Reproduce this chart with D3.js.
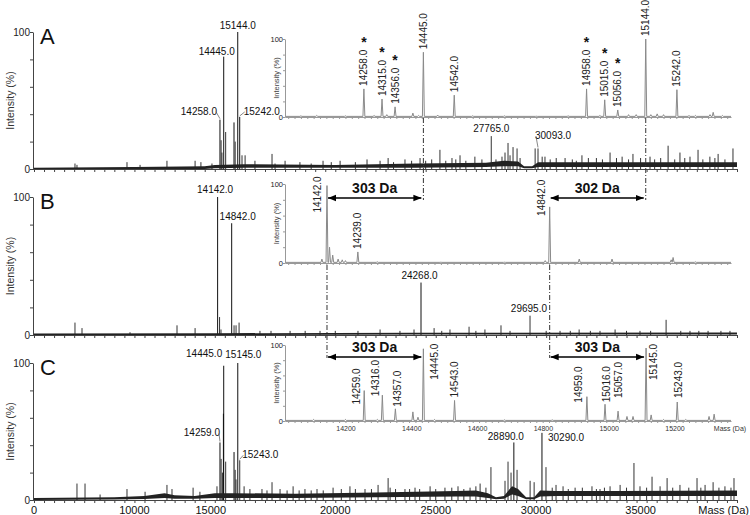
<!DOCTYPE html>
<html>
<head>
<meta charset="utf-8">
<script src="https://cdn.jsdelivr.net/npm/d3@7"></script>
<style>
  body { margin: 0; background: #fff; }
  svg { display: block; font-family: "Liberation Sans", Arial, sans-serif; }
</style>
</head>
<body>
<svg id="chart" width="750" height="515"></svg>
<script>
// ---- data ----
const panelNames = ["A", "B", "C"];

// main spectra: [mass (Da), intensity %]
const peaksA = [
  [7040, 4], [7140, 3], [9630, 5], [10280, 3], [11620, 6], [13020, 6], [13310, 5], [13860, 4],
  [14258, 36], [14315, 21], [14356, 12], [14445, 82], [14542, 27], [14958, 34], [15015, 20],
  [15144, 100], [15242, 38], [15356, 10], [15510, 10], [16000, 6], [16850, 11], [17000, 4],
  [17500, 6], [18240, 5], [18800, 4], [19390, 6], [19800, 5], [20240, 6], [21000, 5], [21580, 7],
  [22230, 6], [22630, 8], [22900, 5], [23470, 7], [23800, 6], [24220, 8], [24500, 6], [24800, 7],
  [25210, 14], [25500, 6], [25810, 8], [26000, 7], [26210, 10], [26500, 6], [26950, 9],
  [27300, 7], [27765, 24], [28000, 7], [28300, 9], [28450, 12], [28600, 19], [28700, 10],
  [28850, 16], [29050, 15], [29200, 8], [29950, 15], [30093, 15], [30300, 9], [30440, 9],
  [30700, 7], [31000, 8], [31440, 8], [31800, 7], [32000, 6], [32280, 10], [32600, 8],
  [33000, 8], [33300, 7], [33680, 12], [34000, 8], [34280, 9], [34600, 7], [34820, 11],
  [35200, 8], [35670, 9], [35900, 7], [36200, 8], [36570, 17], [36900, 7], [37160, 12],
  [37400, 8], [37660, 9], [38060, 14], [38300, 7], [38650, 9], [38900, 8], [39060, 11],
  [39400, 7], [39800, 15]
];
const peaksB = [
  [7040, 9], [7390, 5], [9780, 2], [12120, 7], [13020, 5], [14142, 100], [14239, 13], [14310, 4],
  [14842, 81], [14960, 7], [15060, 7], [15210, 9], [16250, 3], [16800, 3], [17750, 3],
  [18500, 3], [19240, 3], [20000, 3], [21130, 3], [22230, 4], [23220, 3], [23920, 4],
  [24268, 38], [24920, 5], [25300, 3], [25710, 4], [26660, 6], [27000, 3], [27450, 4],
  [28250, 7], [28700, 3], [29695, 14], [30500, 3], [31190, 3], [31700, 3], [32140, 4],
  [32700, 3], [33180, 3], [33930, 4], [34500, 3], [35170, 3], [35700, 3], [36470, 11],
  [37200, 3], [37660, 3], [38100, 3], [38560, 3], [39200, 3], [39650, 3]
];
const peaksC = [
  [7140, 12], [7540, 12], [8290, 4], [9630, 8], [10530, 6], [11620, 11], [11870, 8], [12920, 9],
  [13260, 6], [14110, 10], [14259, 42], [14316, 30], [14380, 20], [14430, 63], [14445, 98],
  [14543, 28], [14959, 35], [15016, 22], [15057, 15], [15145, 100], [15243, 29], [15460, 10],
  [15750, 8], [16350, 8], [16600, 7], [16850, 13], [17250, 8], [17600, 7], [17900, 10],
  [18200, 7], [18490, 8], [18800, 7], [19090, 8], [19400, 7], [19890, 9], [20300, 8],
  [20730, 10], [21000, 8], [21480, 8], [21800, 8], [22130, 11], [22630, 16], [22730, 9],
  [23000, 8], [23470, 8], [23700, 8], [23970, 9], [24200, 8], [24720, 10], [25000, 8],
  [25460, 9], [25800, 9], [26110, 10], [26400, 8], [26710, 9], [27000, 10], [27210, 12],
  [27500, 9], [27750, 24], [28450, 14], [28600, 28], [28750, 20], [28890, 42], [29050, 22],
  [29700, 14], [29900, 13], [30290, 49], [30490, 24], [30800, 9], [30990, 11], [31340, 10],
  [31600, 8], [31940, 9], [32300, 9], [32780, 10], [33000, 8], [33180, 8], [33400, 9],
  [33680, 10], [34180, 11], [34500, 9], [34870, 27], [35170, 10], [35500, 9], [35770, 17],
  [36170, 10], [36520, 16], [36800, 9], [37160, 11], [37600, 9], [38010, 16], [38200, 9],
  [38410, 11], [38810, 13], [39100, 9], [39400, 10], [39700, 9], [39850, 16]
];

// noise band of each main spectrum: [mass, low %, high %]
const noiseA = [
  [5000, 0, 1], [10000, 0, 1.5], [13500, 0, 2], [14000, 0.5, 3], [15500, 1, 3.5], [20000, 1, 3],
  [24000, 1, 4], [27500, 1.5, 4.5], [28400, 2, 6], [29100, 2, 5.5], [29400, 0.5, 2],
  [29800, 0.5, 2], [30100, 1.5, 5], [34000, 1.5, 5], [40000, 1.5, 5]
];
const noiseB = [
  [5000, 0, 1], [14000, 0, 1.3], [24000, 0.3, 1.6], [40000, 0.3, 1.8]
];
const noiseC = [
  [5000, 0, 1.5], [9000, 0.3, 2], [10500, 0.8, 3], [11500, 1.5, 5], [12000, 1, 3.5],
  [13000, 1, 3], [14000, 1.5, 5], [15000, 1.5, 5], [18000, 1.5, 4.5], [22000, 2, 5.5],
  [26000, 2.5, 6.5], [27000, 2.5, 7], [27600, 1.5, 5], [28000, 0.5, 2], [28400, 1, 3],
  [28800, 4, 10], [29100, 3, 8], [29500, 0.5, 2], [29900, 0.5, 2], [30200, 2.5, 7],
  [31000, 3, 6.5], [34000, 3, 6.5], [40000, 3, 7]
];

// zoomed insets: [mass, intensity %]
const insetPeaksA = [
  [14060, 1.5], [14110, 2], [14200, 1.5], [14258, 36], [14290, 2], [14315, 23], [14330, 3],
  [14356, 13], [14412, 5], [14430, 2], [14445, 83], [14490, 2.5], [14542, 28], [14600, 1.5],
  [14700, 1.5], [14800, 1], [14900, 1.5], [14958, 36], [15000, 2], [15015, 22], [15056, 9],
  [15090, 3], [15114, 3], [15144, 100], [15160, 3], [15180, 4], [15200, 3], [15242, 35],
  [15280, 2], [15300, 2], [15346, 3], [15356, 6], [15385, 2]
];
const insetPeaksB = [
  [14126, 5], [14142, 98], [14150, 20], [14160, 10], [14177, 5], [14190, 4], [14200, 3],
  [14239, 14], [14300, 1.5], [14500, 1], [14700, 1], [14828, 3], [14842, 71], [14935, 5],
  [15038, 5], [15224, 4], [15230, 7], [15300, 1.5]
];
const insetPeaksC = [
  [14100, 2], [14200, 2], [14259, 40], [14300, 2], [14316, 34], [14357, 16], [14412, 12],
  [14428, 5], [14445, 95], [14480, 2], [14543, 27], [14700, 1.5], [14850, 1.5], [14959, 32],
  [15016, 22], [15057, 13], [15085, 6], [15104, 6], [15145, 96], [15161, 8], [15200, 2],
  [15243, 25], [15270, 2], [15343, 6], [15359, 9]
];
const starredA = [14258, 14315, 14356, 14958, 15015, 15056];

// printed axis labels and the mass position at which each one sits in the figure
const mainTickLabels = ["0", "10000", "15000", "20000", "25000", "30000", "35000"];
const mainTickAt = [5000, 10000, 13800, 20000, 25000, 30000, 35200];
const insetTickLabels = [14200, 14400, 14600, 14800, 15000, 15200];

// mass shifts between the B and C insets
const shiftB = [[14142, 14445, "303 Da"], [14842, 15144, "302 Da"]];
const shiftC = [[14142, 14445, "303 Da"], [14842, 15145, "303 Da"]];

// ---- layout ----
const svg = d3.select("#chart");
const massX = d3.scaleLinear().domain([5000, 40000]).range([34, 737]);
const insetX = d3.scaleLinear().domain([14010, 15412]).range([285, 731]);
const insetTickX = d3.scaleLinear().domain([14200, 15200]).range([346, 675]);

const panels = [
  { top: 32, bottom: 169, peaks: peaksA, noise: noiseA, insetTop: 39, insetBottom: 117, inset: insetPeaksA,
    labels: [
      { m: 14445, anchor: "middle", dx: -7, dy: -2 },
      { m: 15144, anchor: "middle", dx: 0, dy: -3 },
      { m: 14258, anchor: "end", dx: -3, dy: -5, leader: true },
      { m: 15242, anchor: "start", dx: 4, dy: -2, leader: true },
      { m: 27765, anchor: "middle", dx: 0, dy: -4 },
      { m: 30093, anchor: "start", dx: -3, dy: -9, leader: true }
    ],
    insetLabels: [14258, 14315, 14356, 14445, 14542, 14958, 15015, 15056, 15144, 15242]
      .map(m => ({ m, dx: 0, dy: -3 })) },
  { top: 197, bottom: 335, peaks: peaksB, noise: noiseB, insetTop: 184, insetBottom: 263, inset: insetPeaksB,
    labels: [
      { m: 14142, anchor: "middle", dx: -2.5, dy: -4 },
      { m: 14842, anchor: "middle", dx: 6, dy: -3 },
      { m: 24268, anchor: "middle", dx: -1.5, dy: -4 },
      { m: 29695, anchor: "end", dx: 17, dy: -4 }
    ],
    insetLabels: [
      { m: 14142, dx: -9.5, dy: 27 },
      { m: 14239, dx: -0.5, dy: -3 },
      { m: 14842, dx: -8, dy: 9 }
    ] },
  { top: 363, bottom: 500, peaks: peaksC, noise: noiseC, insetTop: 345, insetBottom: 421, inset: insetPeaksC,
    labels: [
      { m: 14445, anchor: "end", dx: -1.5, dy: -9 },
      { m: 15145, anchor: "start", dx: -12.5, dy: -5 },
      { m: 14259, anchor: "end", dx: 0, dy: -6, leader: true },
      { m: 15243, anchor: "start", dx: 2.5, dy: -2, leader: true },
      { m: 28890, anchor: "middle", dx: -8, dy: -2 },
      { m: 30290, anchor: "start", dx: 6, dy: 8 }
    ],
    insetLabels: [
      { m: 14259, dx: -8, dy: 14 }, { m: 14316, dx: -7, dy: 1 }, { m: 14357, dx: 2, dy: -2 },
      { m: 14445, dx: 11, dy: 31 }, { m: 14543, dx: 0, dy: -3 }, { m: 14959, dx: -8, dy: 6 },
      { m: 15016, dx: 1, dy: -2 }, { m: 15057, dx: 0.5, dy: -13 }, { m: 15145, dx: 7.5, dy: 32 },
      { m: 15243, dx: 1, dy: -4 }
    ] }
];

const defs = svg.append("defs");
defs.append("marker")
  .attr("id", "arrow")
  .attr("viewBox", "0 0 10 10")
  .attr("refX", 10)
  .attr("refY", 5)
  .attr("markerUnits", "userSpaceOnUse")
  .attr("markerWidth", 8)
  .attr("markerHeight", 8)
  .attr("orient", "auto-start-reverse")
  .append("path")
  .attr("d", "M0,1 L10,5 L0,9 Z")
  .attr("fill", "#000");

const fmt = m => m.toFixed(1);

function styleAxis(g, color) {
  g.select(".domain").attr("stroke", color);
  g.selectAll(".tick line").attr("stroke", color);
  g.selectAll(".tick text").attr("fill", "#222");
}

function peakOf(list, m) {
  return list.find(d => d[0] === m);
}

// ---- main panels ----
panels.forEach((p, i) => {
  const y = d3.scaleLinear().domain([0, 100]).range([p.bottom, p.top]);
  const g = svg.append("g").attr("class", "panel");

  // peaks
  g.selectAll("line.peak")
    .data(p.peaks)
    .join("line")
    .attr("class", "peak")
    .attr("x1", d => massX(d[0]))
    .attr("x2", d => massX(d[0]))
    .attr("y1", y(0))
    .attr("y2", d => y(d[1]))
    .attr("stroke", d => d[1] > 30 ? "#111" : "#333")
    .attr("stroke-width", 1);

  // noise band
  g.append("path")
    .datum(p.noise)
    .attr("fill", "#222")
    .attr("d", d3.area()
      .x(d => massX(d[0]))
      .y0(d => y(d[1]))
      .y1(d => y(d[2])));

  // axes
  const xAxis = g.append("g")
    .attr("transform", `translate(0,${p.bottom})`)
    .call(d3.axisBottom(massX)
      .tickValues(d3.range(5000, 40001, 500))
      .tickSize(3)
      .tickSizeOuter(0)
      .tickFormat(""));
  styleAxis(xAxis, "#444");
  xAxis.select(".domain").attr("d", `M33,0.5H737`);

  const yAxis = g.append("g")
    .attr("transform", "translate(33,0)")
    .call(d3.axisLeft(y)
      .tickValues([0, 20, 40, 60, 80, 100])
      .tickSize(3)
      .tickSizeOuter(0)
      .tickFormat(d => (d === 0 || d === 100) ? d : ""));
  styleAxis(yAxis, "#444");
  yAxis.selectAll(".tick text").attr("font-size", 10).attr("font-family", null).attr("x", -3);

  g.append("text")
    .attr("transform", `translate(14,${(p.top + p.bottom) / 2}) rotate(-90)`)
    .attr("text-anchor", "middle")
    .attr("font-size", 10.5)
    .attr("fill", "#333")
    .text("Intensity (%)");

  g.append("text")
    .attr("x", 40)
    .attr("y", p.top + 12)
    .attr("font-size", 22)
    .attr("fill", "#111")
    .text(panelNames[i]);

  // peak labels
  p.labels.forEach(l => {
    const pk = peakOf(p.peaks, l.m);
    const px = massX(pk[0]);
    const py = y(pk[1]);
    const tx = px + l.dx;
    const ty = py + l.dy;
    g.append("text")
      .attr("x", tx)
      .attr("y", ty)
      .attr("text-anchor", l.anchor)
      .attr("font-size", 10)
      .attr("fill", "#111")
      .text(fmt(l.m));
    if (l.leader) {
      g.append("line")
        .attr("x1", px)
        .attr("y1", py - 1)
        .attr("x2", tx + (l.anchor === "end" ? -1 : 1))
        .attr("y2", ty - 3)
        .attr("stroke", "#555")
        .attr("stroke-width", 0.7);
    }
  });
});

// main mass axis labels
mainTickLabels.forEach((t, i) => {
  svg.append("text")
    .attr("x", massX(mainTickAt[i]))
    .attr("y", 514)
    .attr("text-anchor", "middle")
    .attr("font-size", 11)
    .attr("fill", "#111")
    .text(t);
});
svg.append("text")
  .attr("x", 749)
  .attr("y", 514)
  .attr("text-anchor", "end")
  .attr("font-size", 11)
  .attr("fill", "#111")
  .text("Mass (Da)");

// ---- insets ----
panels.forEach((p, i) => {
  const y = d3.scaleLinear().domain([0, 100]).range([p.insetBottom, p.insetTop]);
  const g = svg.append("g").attr("class", "inset");
  const base = 0.8;
  const halfWidth = 3;

  const pts = [[insetX.domain()[0], base]];
  p.inset.forEach(d => {
    pts.push([d[0] - halfWidth, base], [d[0], d[1]], [d[0] + halfWidth, base]);
  });
  pts.push([insetX.domain()[1], base]);

  g.append("path")
    .datum(pts)
    .attr("fill", "none")
    .attr("stroke", "#8a8a8a")
    .attr("stroke-width", 1)
    .attr("d", d3.line().x(d => insetX(d[0])).y(d => y(d[1])));

  const xAxis = g.append("g")
    .attr("transform", `translate(0,${p.insetBottom})`)
    .call(d3.axisBottom(insetX)
      .tickValues(d3.range(14020, 15401, 20))
      .tickSize(2)
      .tickSizeOuter(0)
      .tickFormat(""));
  styleAxis(xAxis, "#999");

  const yAxis = g.append("g")
    .attr("transform", "translate(285,0)")
    .call(d3.axisLeft(y)
      .tickValues([0, 20, 40, 60, 80, 100])
      .tickSize(2)
      .tickSizeOuter(0)
      .tickFormat(d => (d === 0 || d === 100) ? d : ""));
  styleAxis(yAxis, "#999");
  yAxis.selectAll(".tick text").attr("font-size", 7.5).attr("font-family", null).attr("x", -2);

  g.append("text")
    .attr("transform", `translate(279,${(p.insetTop + p.insetBottom) / 2}) rotate(-90)`)
    .attr("text-anchor", "middle")
    .attr("font-size", 7.5)
    .attr("fill", "#444")
    .text("Intensity (%)");

  // vertical peak labels
  p.insetLabels.forEach(l => {
    const pk = peakOf(p.inset, l.m);
    const px = insetX(pk[0]) + l.dx;
    const py = y(pk[1]) + l.dy;
    g.append("text")
      .attr("transform", `translate(${px},${py}) rotate(-90)`)
      .attr("dy", "0.35em")
      .attr("font-size", 10)
      .attr("fill", "#222")
      .text(fmt(l.m));
    if (i === 0 && starredA.includes(l.m)) {
      g.append("text")
        .attr("x", px)
        .attr("y", py - 36 - 3)
        .attr("text-anchor", "middle")
        .attr("font-size", 14)
        .attr("font-weight", "bold")
        .attr("fill", "#111")
        .text("*");
    }
  });
});

// inset C mass labels
const cInset = panels[2];
insetTickLabels.forEach(t => {
  svg.append("text")
    .attr("x", insetTickX(t))
    .attr("y", cInset.insetBottom + 10)
    .attr("text-anchor", "middle")
    .attr("font-size", 7)
    .attr("fill", "#333")
    .text(t);
});
svg.append("text")
  .attr("x", 730)
  .attr("y", cInset.insetBottom + 10)
  .attr("text-anchor", "middle")
  .attr("font-size", 7)
  .attr("fill", "#333")
  .text("Mass (Da)");

// ---- guide lines and mass-shift arrows ----
const guides = [
  { m: 14445, y1: panels[0].insetBottom + 1, y2: 200 },
  { m: 15144, y1: panels[0].insetBottom + 1, y2: 200 },
  { m: 14142, y1: panels[1].insetBottom + 2, y2: 358 },
  { m: 14842, y1: panels[1].insetBottom + 2, y2: 358 }
];
svg.append("g")
  .selectAll("line")
  .data(guides)
  .join("line")
  .attr("x1", d => insetX(d.m))
  .attr("x2", d => insetX(d.m))
  .attr("y1", d => d.y1)
  .attr("y2", d => d.y2)
  .attr("stroke", "#333")
  .attr("stroke-width", 1)
  .attr("stroke-dasharray", "5,2,1,2");

[[shiftB, 198], [shiftC, 357]].forEach(([pairs, ay]) => {
  const g = svg.append("g");
  pairs.forEach(([from, to, text]) => {
    const x1 = insetX(from) + 1;
    const x2 = insetX(to) - 2;
    g.append("line")
      .attr("x1", x1)
      .attr("x2", x2)
      .attr("y1", ay)
      .attr("y2", ay)
      .attr("stroke", "#000")
      .attr("stroke-width", 1.3)
      .attr("marker-start", "url(#arrow)")
      .attr("marker-end", "url(#arrow)");
    g.append("text")
      .attr("x", (x1 + x2) / 2)
      .attr("y", ay - 5)
      .attr("text-anchor", "middle")
      .attr("font-size", 14)
      .attr("font-weight", "bold")
      .attr("fill", "#111")
      .text(text);
  });
});
</script>
</body>
</html>
